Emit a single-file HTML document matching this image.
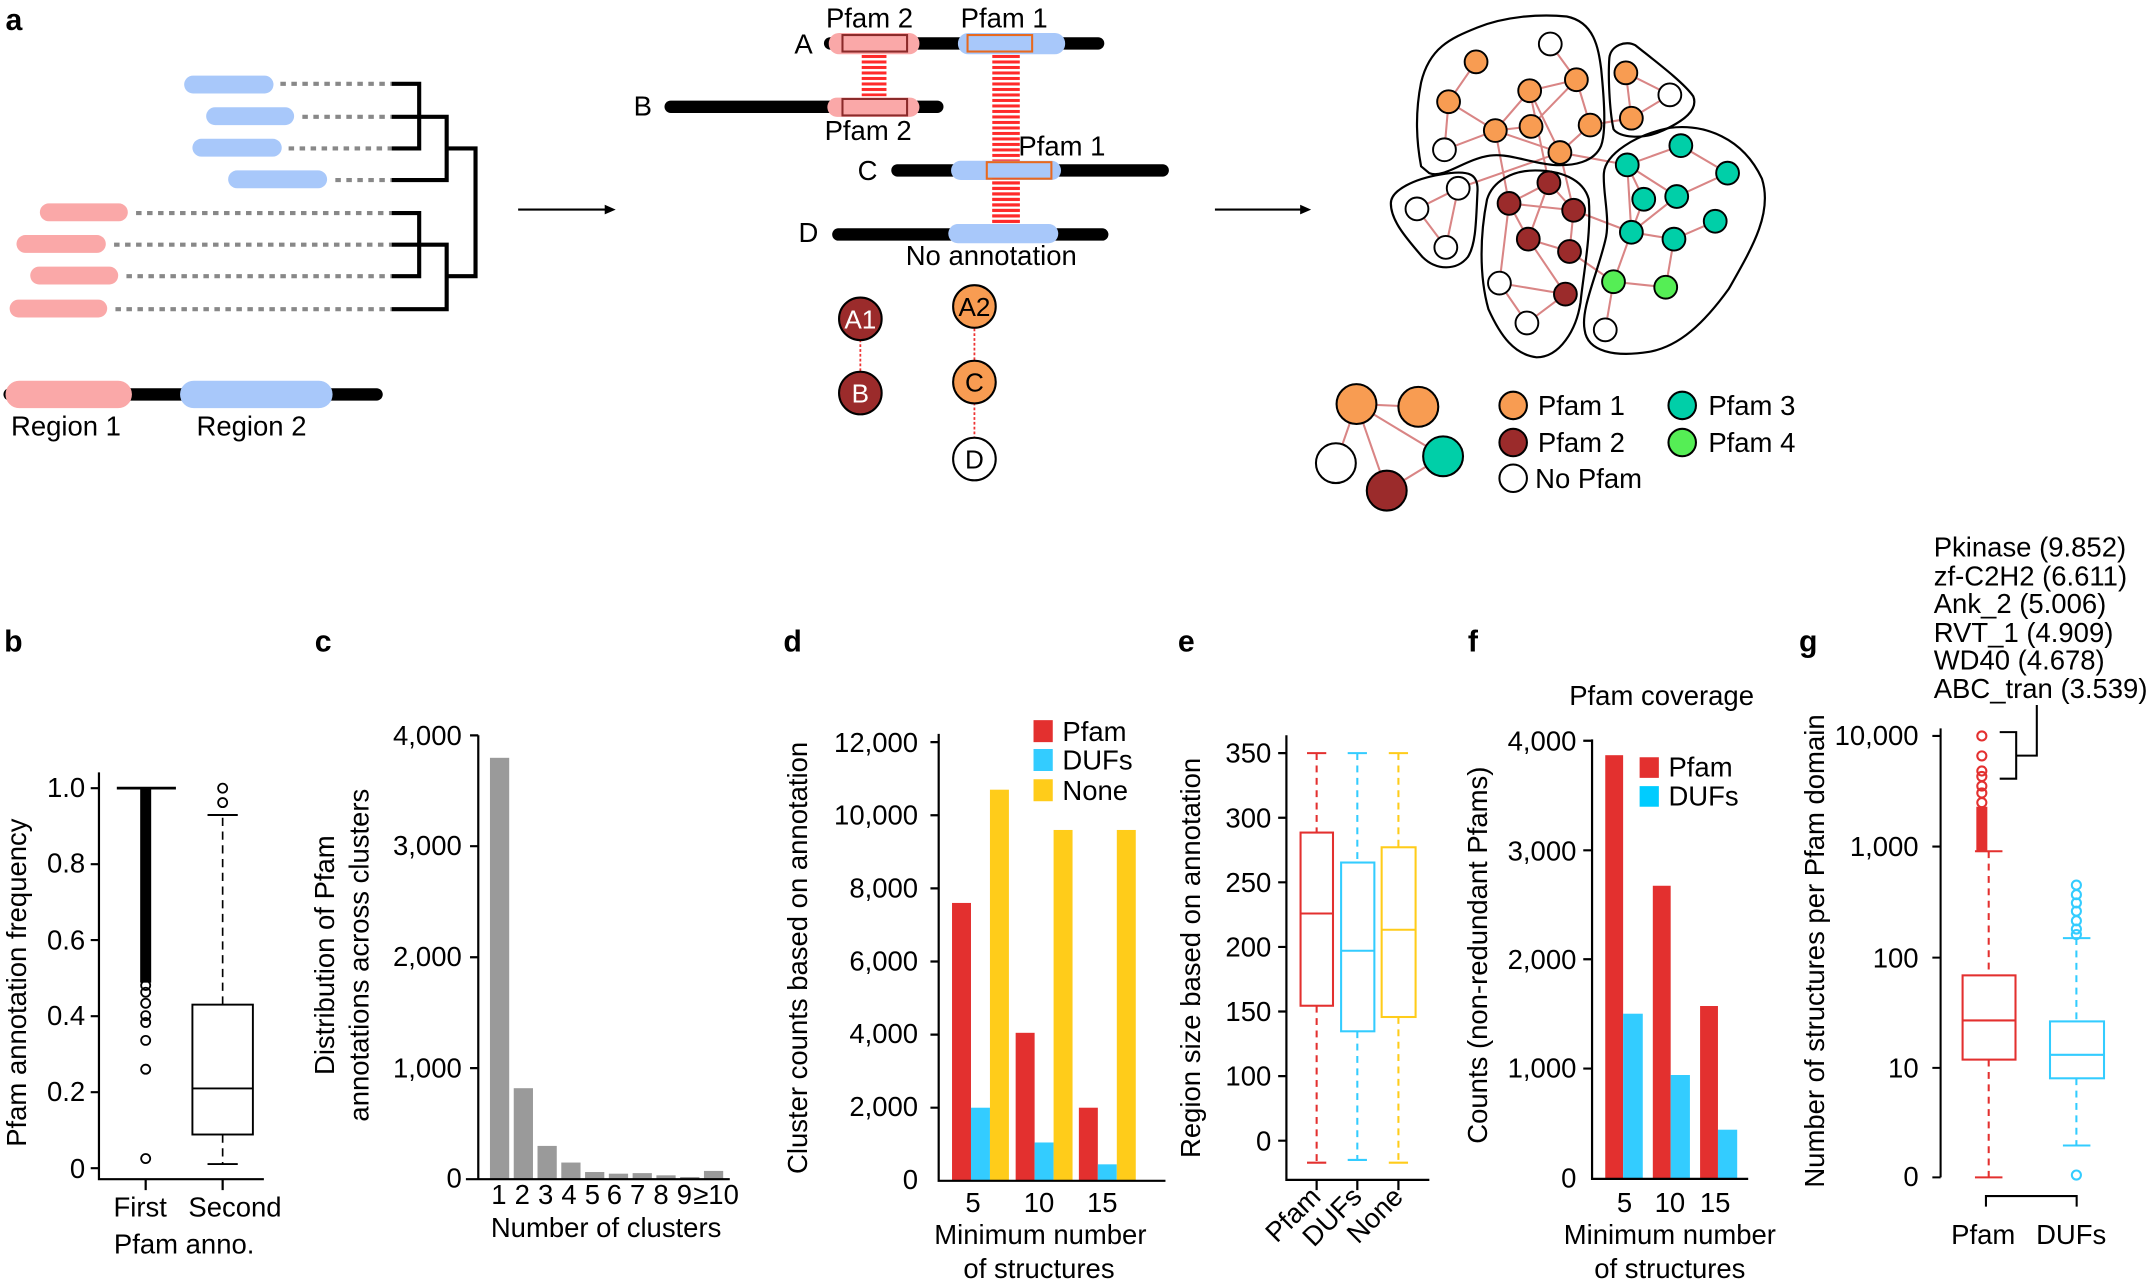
<!DOCTYPE html>
<html><head><meta charset="utf-8"><style>
html,body{margin:0;padding:0;background:#fff;}
svg{display:block;}
text{font-family:"Liberation Sans",Arial,sans-serif;fill:#000;}
</style></head><body>
<svg width="2155" height="1285" viewBox="0 0 1568 935" preserveAspectRatio="none" xmlns="http://www.w3.org/2000/svg">
<defs>
<pattern id="ladder" width="4" height="4" patternUnits="userSpaceOnUse"><rect width="40" height="2.2" fill="#ff2a2a"/></pattern>
</defs>
<!-- Panel a -->
<text x="4" y="22" font-size="22" font-weight="bold">a</text>
<g fill="#a8c8fa">
<rect x="134" y="55" width="65" height="13" rx="6.5"/>
<rect x="150" y="78" width="64" height="13" rx="6.5"/>
<rect x="140" y="101" width="65" height="13" rx="6.5"/>
<rect x="166" y="124" width="72" height="13" rx="6.5"/>
</g>
<g fill="#faa8a8">
<rect x="29" y="148" width="64" height="13" rx="6.5"/>
<rect x="12" y="171" width="65" height="13" rx="6.5"/>
<rect x="22" y="194" width="64" height="13" rx="6.5"/>
<rect x="7" y="218" width="71" height="13" rx="6.5"/>
</g>
<g stroke="#888" stroke-width="3" stroke-dasharray="4,4">
<line x1="204" y1="61" x2="285" y2="61"/><line x1="220" y1="85" x2="285" y2="85"/>
<line x1="210" y1="108" x2="285" y2="108"/><line x1="244" y1="131" x2="285" y2="131"/>
<line x1="99" y1="155" x2="285" y2="155"/><line x1="83" y1="178" x2="285" y2="178"/>
<line x1="92" y1="201" x2="285" y2="201"/><line x1="84" y1="225" x2="285" y2="225"/>
</g>
<g stroke="#000" stroke-width="3" fill="none">
<path d="M285 61H305V108H285M285 85H325V131H285M325 108H346V201H325M285 155H305V201H285M285 178H325V225H285"/>
</g>
<line x1="7" y1="287" x2="274" y2="287" stroke="#000" stroke-width="9" stroke-linecap="round"/>
<rect x="4" y="277" width="92" height="20" rx="10" fill="#faa8a8"/>
<rect x="131" y="277" width="111" height="20" rx="10" fill="#a8c8fa"/>
<text x="8" y="317" font-size="20">Region 1</text>
<text x="143" y="317" font-size="20">Region 2</text>
<g stroke="#000" stroke-width="1.5"><line x1="377" y1="152.5" x2="444" y2="152.5"/><line x1="884" y1="152.5" x2="950" y2="152.5"/></g>
<path d="M440 149L448 152.5L440 156Z M946 149L954 152.5L946 156Z" fill="#000"/>
<!-- schematic -->
<rect x="627" y="40" width="18" height="30" fill="url(#ladder)"/>
<rect x="722" y="39" width="20" height="124" fill="url(#ladder)"/>
<g stroke="#000" stroke-width="9" stroke-linecap="round">
<line x1="604" y1="31.6" x2="799" y2="31.6"/>
<line x1="488" y1="77.7" x2="682" y2="77.7"/>
<line x1="653" y1="124" x2="846" y2="124"/>
<line x1="610" y1="170.6" x2="802" y2="170.6"/>
</g>
<rect x="603" y="24" width="66" height="15.5" rx="7.5" fill="#faa8a8"/>
<rect x="613" y="25.5" width="47" height="12" fill="none" stroke="#8b2a2a" stroke-width="1.5"/>
<rect x="697" y="24" width="78" height="15.5" rx="7.5" fill="#a8c8fa"/>
<rect x="704" y="25.5" width="47" height="12" fill="none" stroke="#e8691e" stroke-width="1.5"/>
<rect x="602" y="71" width="67" height="14" rx="7" fill="#faa8a8"/>
<rect x="613" y="72" width="47" height="12" fill="none" stroke="#8b2a2a" stroke-width="1.5"/>
<rect x="692" y="117" width="80" height="14" rx="7" fill="#a8c8fa"/>
<rect x="718" y="118" width="47" height="12" fill="none" stroke="#e8691e" stroke-width="1.5"/>
<rect x="722" y="130" width="20" height="33" fill="url(#ladder)"/>
<rect x="690" y="163" width="80" height="14" rx="7" fill="#a8c8fa"/>
<g font-size="20">
<text x="578" y="39">A</text><text x="461" y="84">B</text><text x="624" y="131">C</text><text x="581" y="176">D</text>
<text x="601" y="20">Pfam 2</text><text x="699" y="20">Pfam 1</text>
<text x="600" y="102">Pfam 2</text><text x="741" y="113">Pfam 1</text>
<text x="659" y="193">No annotation</text>
</g>
<g stroke="#e33" stroke-width="1.3" stroke-dasharray="2,1.5"><line x1="626" y1="247" x2="626" y2="271"/><line x1="709" y1="239" x2="709" y2="263"/><line x1="709" y1="293" x2="709" y2="319"/></g>
<g stroke="#000" stroke-width="1.5">
<circle cx="626" cy="232" r="15.5" fill="#9b2b2b"/><circle cx="626" cy="286" r="15.5" fill="#9b2b2b"/>
<circle cx="709" cy="223" r="15.5" fill="#f89c52"/><circle cx="709" cy="278" r="15.5" fill="#f89c52"/>
<circle cx="709" cy="334" r="15.5" fill="#fff"/>
</g>
<g font-size="19" text-anchor="middle">
<text x="626" y="239" fill="#fff" style="fill:#fff">A1</text><text x="626" y="293" style="fill:#fff">B</text>
<text x="709" y="230">A2</text><text x="709" y="285">C</text><text x="709" y="341">D</text>
</g>
<!-- network -->
<g stroke="#d98585" stroke-width="1.5">
<path d="M1074 45L1054 74M1128 32L1147 58M1147 58L1113 66M1147 58L1157 91M1113 66L1088 95M1113 66L1135 111M1054 74L1088 95M1054 74L1051 109M1088 95L1114 92M1088 95L1051 109M1088 95L1135 111M1114 92L1147 58M1157 91L1135 111M1183 53L1215 69M1183 53L1187 86M1215 69L1187 86M1187 86L1157 91M1135 111L1184 120M1113 66L1127 133M1061 137L1031 152M1061 137L1052 180M1031 152L1052 180M1061 137L1135 111M1135 111L1145 153M1127 133L1098 148M1127 133L1145 153M1127 133L1112 174M1098 148L1145 153M1098 148L1112 174M1145 153L1142 183M1112 174L1142 183M1112 174L1139 214M1142 183L1174 205M1098 148L1091 206M1091 206L1139 214M1091 206L1111 235M1139 214L1111 235M1223 106L1184 120M1223 106L1257 126M1184 120L1196 145M1184 120L1220 143M1257 126L1220 143M1196 145L1187 169M1220 143L1187 169M1248 161L1218 174M1187 169L1218 174M1184 120L1187 169M1187 169L1174 205M1174 205L1212 209M1218 174L1212 209M1174 205L1168 240M1145 153L1187 169M1088 95L1098 148"/>
</g>
<g fill="none" stroke="#000" stroke-width="1.6">
<path d="M1034 121C1030 100 1030 80 1034 60C1040 35 1055 28 1075 20C1095 12 1120 10 1140 12C1160 16 1163 35 1165 50C1167 70 1169 95 1165 106C1160 118 1145 121 1130 120C1110 118 1095 110 1080 114C1065 117 1050 130 1040 126Z"/>
<path d="M1171 42C1172 33 1183 29 1190 33C1205 45 1225 60 1232 70C1236 80 1225 88 1210 95C1195 102 1178 100 1174 94C1171 80 1170 55 1171 42Z"/>
<path d="M1012 148C1012 138 1030 130 1048 127C1070 123 1076 127 1075 140C1074 160 1074 178 1068 187C1060 197 1045 197 1035 187C1022 172 1012 160 1012 148Z"/>
<path d="M1082 145C1086 132 1100 124 1117 124C1135 124 1152 130 1156 145C1158 170 1152 200 1150 220C1147 240 1135 260 1118 260C1102 258 1092 245 1083 225C1076 200 1077 170 1082 145Z"/>
<path d="M1167 126C1168 112 1190 98 1215 93C1240 90 1268 100 1282 130C1290 155 1275 180 1258 210C1240 235 1222 252 1200 256C1175 260 1155 256 1153 240C1150 225 1162 200 1168 175C1172 160 1166 140 1167 126Z"/>
</g>
<g stroke="#000" stroke-width="1.4">
<g fill="#f89c52"><circle cx="1074" cy="45" r="8.3"/><circle cx="1147" cy="58" r="8.3"/><circle cx="1113" cy="66" r="8.3"/><circle cx="1054" cy="74" r="8.3"/><circle cx="1088" cy="95" r="8.3"/><circle cx="1114" cy="92" r="8.3"/><circle cx="1157" cy="91" r="8.3"/><circle cx="1135" cy="111" r="8.3"/><circle cx="1183" cy="53" r="8.3"/><circle cx="1187" cy="86" r="8.3"/></g>
<g fill="#fff"><circle cx="1128" cy="32" r="8.3"/><circle cx="1051" cy="109" r="8.3"/><circle cx="1215" cy="69" r="8.3"/><circle cx="1061" cy="137" r="8.3"/><circle cx="1031" cy="152" r="8.3"/><circle cx="1052" cy="180" r="8.3"/><circle cx="1091" cy="206" r="8.3"/><circle cx="1111" cy="235" r="8.3"/><circle cx="1168" cy="240" r="8.3"/></g>
<g fill="#9b2b2b"><circle cx="1127" cy="133" r="8.3"/><circle cx="1098" cy="148" r="8.3"/><circle cx="1145" cy="153" r="8.3"/><circle cx="1112" cy="174" r="8.3"/><circle cx="1142" cy="183" r="8.3"/><circle cx="1139" cy="214" r="8.3"/></g>
<g fill="#00cfa8"><circle cx="1223" cy="106" r="8.3"/><circle cx="1184" cy="120" r="8.3"/><circle cx="1257" cy="126" r="8.3"/><circle cx="1196" cy="145" r="8.3"/><circle cx="1220" cy="143" r="8.3"/><circle cx="1248" cy="161" r="8.3"/><circle cx="1187" cy="169" r="8.3"/><circle cx="1218" cy="174" r="8.3"/></g>
<g fill="#55ee55"><circle cx="1174" cy="205" r="8.3"/><circle cx="1212" cy="209" r="8.3"/></g>
</g>
<!-- legend network -->
<g stroke="#d98585" stroke-width="1.5"><path d="M987 294L1032 296M987 294L972 337M987 294L1009 357M987 294L1050 332M1050 332L1009 357"/></g>
<g stroke="#000" stroke-width="1.5">
<circle cx="987" cy="294" r="14.5" fill="#f89c52"/><circle cx="1032" cy="296" r="14.5" fill="#f89c52"/>
<circle cx="972" cy="337" r="14.5" fill="#fff"/><circle cx="1009" cy="357" r="14.5" fill="#9b2b2b"/><circle cx="1050" cy="332" r="14.5" fill="#00cfa8"/>
<circle cx="1101" cy="295" r="10" fill="#f89c52"/><circle cx="1101" cy="322" r="10" fill="#9b2b2b"/><circle cx="1101" cy="348" r="10" fill="#fff"/>
<circle cx="1224" cy="295" r="10" fill="#00cfa8"/><circle cx="1224" cy="322" r="10" fill="#55ee55"/>
</g>
<g font-size="20"><text x="1119" y="302">Pfam 1</text><text x="1119" y="329">Pfam 2</text><text x="1117" y="355">No Pfam</text><text x="1243" y="302">Pfam 3</text><text x="1243" y="329">Pfam 4</text></g>

<!-- Panel b -->
<text x="3" y="474" font-size="22" font-weight="bold">b</text>
<g stroke="#000" stroke-width="1.6" fill="none">
<path d="M72 562V858H192M106 858V866M162 858V866"/>
<path d="M66 573.5H72M66 628.8H72M66 684H72M66 739.4H72M66 794.7H72M66 850H72"/>
<line x1="85" y1="573.5" x2="128" y2="573.5" stroke-width="2"/>
<rect x="140" y="731" width="44" height="94.5" stroke-width="1.4"/>
<line x1="140" y1="792" x2="184" y2="792" stroke-width="1.4"/>
<line x1="162" y1="731" x2="162" y2="593" stroke-dasharray="6,4" stroke-width="1.2"/>
<line x1="162" y1="825.5" x2="162" y2="847" stroke-dasharray="6,4" stroke-width="1.2"/>
<line x1="151" y1="593" x2="173" y2="593" stroke-width="1.4"/>
<line x1="151" y1="847" x2="173" y2="847" stroke-width="1.4"/>
<circle cx="162" cy="573.5" r="3.3" stroke-width="1.3"/><circle cx="162" cy="584" r="3.3" stroke-width="1.3"/>
</g>
<rect x="102" y="573" width="8" height="142" fill="#000"/>
<g fill="none" stroke="#000" stroke-width="1.3">
<circle cx="106" cy="717" r="3.3"/><circle cx="106" cy="722" r="3.3"/><circle cx="106" cy="730" r="3.3"/><circle cx="106" cy="739" r="3.3"/><circle cx="106" cy="744" r="3.3"/><circle cx="106" cy="757" r="3.3"/><circle cx="106" cy="778" r="3.3"/><circle cx="106" cy="843" r="3.3"/>
</g>
<g font-size="20" text-anchor="end"><text x="62" y="580">1.0</text><text x="62" y="635">0.8</text><text x="62" y="691">0.6</text><text x="62" y="746">0.4</text><text x="62" y="801">0.2</text><text x="62" y="857">0</text></g>
<g font-size="20" text-anchor="middle"><text x="102" y="885">First</text><text x="171" y="885">Second</text><text x="134" y="912">Pfam anno.</text></g>
<text transform="translate(19,715) rotate(-90)" font-size="20" text-anchor="middle">Pfam annotation frequency</text>

<!-- Panel c -->
<text x="229" y="474" font-size="22" font-weight="bold">c</text>
<g fill="#9a9a9a">
<rect x="356.5" y="551.4" width="14" height="306.6"/>
<rect x="373.8" y="791.8" width="14" height="66.2"/>
<rect x="391.1" y="833.8" width="14" height="24.2"/>
<rect x="408.4" y="845.9" width="14" height="12.1"/>
<rect x="425.7" y="852.8" width="14" height="5.2"/>
<rect x="443" y="854" width="14" height="4"/>
<rect x="460.3" y="853.6" width="14" height="4.4"/>
<rect x="477.6" y="855.2" width="14" height="2.8"/>
<rect x="494.9" y="856.4" width="14" height="1.6"/>
<rect x="512.2" y="852" width="14" height="6"/>
</g>
<g stroke="#000" stroke-width="1.6" fill="none"><path d="M348 535V858M339 858H531M342 535.1H348M342 615.7H348M342 696.5H348M342 777.2H348"/></g>
<g font-size="20" text-anchor="end"><text x="336" y="542">4,000</text><text x="336" y="622">3,000</text><text x="336" y="703">2,000</text><text x="336" y="784">1,000</text><text x="336" y="864">0</text></g>
<g font-size="20" text-anchor="middle"><text x="363" y="876">1</text><text x="380" y="876">2</text><text x="397" y="876">3</text><text x="414" y="876">4</text><text x="431" y="876">5</text><text x="447" y="876">6</text><text x="464" y="876">7</text><text x="481" y="876">8</text><text x="498" y="876">9</text><text x="521" y="876">≥10</text>
<text x="441" y="900">Number of clusters</text></g>
<g font-size="20" text-anchor="middle"><text transform="translate(243,695) rotate(-90)">Distribution of Pfam</text><text transform="translate(268,695) rotate(-90)">annotations across clusters</text></g>

<!-- Panel d -->
<text x="570" y="474" font-size="22" font-weight="bold">d</text>
<g fill="#e3302f"><rect x="692.7" y="657" width="13.8" height="202.2"/><rect x="739" y="751.5" width="13.8" height="107.7"/><rect x="785" y="806" width="13.8" height="53.2"/></g>
<g fill="#33ccff"><rect x="706.5" y="806" width="13.8" height="53.2"/><rect x="752.8" y="831.3" width="13.8" height="27.9"/><rect x="798.8" y="847.2" width="13.8" height="12"/></g>
<g fill="#ffcc1a"><rect x="720.3" y="574.6" width="13.8" height="284.6"/><rect x="766.6" y="603.9" width="13.8" height="255.3"/><rect x="812.6" y="603.9" width="13.8" height="255.3"/></g>
<g stroke="#000" stroke-width="1.6" fill="none"><path d="M683 534V859.2H848M677 540H683M677 593.2H683M677 646.4H683M677 699.6H683M677 752.8H683M677 806H683"/></g>
<g font-size="20" text-anchor="end"><text x="668" y="547">12,000</text><text x="668" y="600">10,000</text><text x="668" y="653">8,000</text><text x="668" y="706">6,000</text><text x="668" y="759">4,000</text><text x="668" y="812">2,000</text><text x="668" y="865">0</text></g>
<g font-size="20" text-anchor="middle"><text x="708" y="882">5</text><text x="756" y="882">10</text><text x="802" y="882">15</text><text x="757" y="905">Minimum number</text><text x="756" y="930">of structures</text></g>
<rect x="752" y="524" width="14" height="16" fill="#e3302f"/><rect x="752" y="545" width="14" height="16" fill="#33ccff"/><rect x="752" y="567" width="14" height="16" fill="#ffcc1a"/>
<g font-size="20"><text x="773" y="539">Pfam</text><text x="773" y="560">DUFs</text><text x="773" y="582">None</text></g>
<text transform="translate(587,697) rotate(-90)" font-size="20" text-anchor="middle">Cluster counts based on annotation</text>

<!-- Panel e -->
<text x="857" y="474" font-size="22" font-weight="bold">e</text>
<g stroke="#000" stroke-width="1.6" fill="none"><path d="M936 535V858.5H1040M958 858.5V866M987.6 858.5V866M1017.5 858.5V866M930 548H936M930 595H936M930 642H936M930 689H936M930 736H936M930 783H936M930 830H936"/></g>
<g font-size="20" text-anchor="end"><text x="925" y="555">350</text><text x="925" y="602">300</text><text x="925" y="649">250</text><text x="925" y="696">200</text><text x="925" y="743">150</text><text x="925" y="790">100</text><text x="925" y="837">0</text></g>
<g fill="none" stroke-width="1.5">
<g stroke="#e3302f"><rect x="946.3" y="605.8" width="23.6" height="126"/><line x1="946.3" y1="664.7" x2="969.9" y2="664.7"/><line x1="958" y1="548" x2="958" y2="605.8" stroke-dasharray="5,4"/><line x1="958" y1="731.8" x2="958" y2="846" stroke-dasharray="5,4"/><line x1="951" y1="548" x2="965" y2="548"/><line x1="951" y1="846" x2="965" y2="846"/></g>
<g stroke="#33ccff"><rect x="975.8" y="627.6" width="24.2" height="122.8"/><line x1="975.8" y1="691.8" x2="1000" y2="691.8"/><line x1="987.6" y1="548" x2="987.6" y2="627.6" stroke-dasharray="5,4"/><line x1="987.6" y1="750.4" x2="987.6" y2="844" stroke-dasharray="5,4"/><line x1="980.6" y1="548" x2="994.6" y2="548"/><line x1="980.6" y1="844" x2="994.6" y2="844"/></g>
<g stroke="#ffcc1a"><rect x="1005.3" y="616.5" width="24.7" height="123.5"/><line x1="1005.3" y1="676.5" x2="1030" y2="676.5"/><line x1="1017.5" y1="548" x2="1017.5" y2="616.5" stroke-dasharray="5,4"/><line x1="1017.5" y1="740" x2="1017.5" y2="846" stroke-dasharray="5,4"/><line x1="1010.5" y1="548" x2="1024.5" y2="548"/><line x1="1010.5" y1="846" x2="1024.5" y2="846"/></g>
</g>
<g font-size="20" text-anchor="end"><text transform="translate(962,872) rotate(-45)">Pfam</text><text transform="translate(992,872) rotate(-45)">DUFs</text><text transform="translate(1022,872) rotate(-45)">None</text></g>
<text transform="translate(873,697) rotate(-90)" font-size="20" text-anchor="middle">Region size based on annotation</text>

<!-- Panel f -->
<text x="1068" y="474" font-size="22" font-weight="bold">f</text>
<text x="1209" y="513" font-size="20" text-anchor="middle">Pfam coverage</text>
<g fill="#e3302f"><rect x="1168" y="549.5" width="13" height="308.3"/><rect x="1202.6" y="644.5" width="13" height="213.3"/><rect x="1237" y="732" width="13" height="125.8"/></g>
<g fill="#33ccff"><rect x="1181" y="737.6" width="14.3" height="120.2"/><rect x="1215.6" y="782.2" width="14" height="75.6"/><rect x="1250" y="822" width="14" height="35.8"/></g>
<g stroke="#000" stroke-width="1.6" fill="none"><path d="M1158.4 538V857.8H1272M1152 539H1158.4M1152 618.7H1158.4M1152 698H1158.4M1152 777.5H1158.4"/></g>
<g font-size="20" text-anchor="end"><text x="1147" y="546">4,000</text><text x="1147" y="626">3,000</text><text x="1147" y="705">2,000</text><text x="1147" y="784">1,000</text><text x="1147" y="864">0</text></g>
<g font-size="20" text-anchor="middle"><text x="1182" y="882">5</text><text x="1215" y="882">10</text><text x="1248" y="882">15</text><text x="1215" y="905">Minimum number</text><text x="1215" y="930">of structures</text></g>
<rect x="1193" y="551" width="14" height="15" fill="#e3302f"/><rect x="1193" y="572" width="14" height="15" fill="#00ccff"/>
<g font-size="20"><text x="1214" y="565">Pfam</text><text x="1214" y="586">DUFs</text></g>
<text transform="translate(1082,695) rotate(-90)" font-size="20" text-anchor="middle">Counts (non-redundant Pfams)</text>

<!-- Panel g -->
<text x="1309" y="474" font-size="22" font-weight="bold">g</text>
<g font-size="20"><text x="1407" y="405">Pkinase (9.852)</text><text x="1407" y="426">zf-C2H2 (6.611)</text><text x="1407" y="446">Ank_2 (5.006)</text><text x="1407" y="467">RVT_1 (4.909)</text><text x="1407" y="487">WD40 (4.678)</text><text x="1407" y="508">ABC_tran (3.539)</text></g>
<g stroke="#000" stroke-width="1.5" fill="none"><path d="M1455 532.7H1467V566.6H1455M1467 549.8H1482V513"/>
<path d="M1412 530V856.7M1406 535.5H1412M1406 616H1412M1406 696.8H1412M1406 777H1412M1406 856.7H1412"/>
<path d="M1445 878V870.3H1511V878"/></g>
<g font-size="20" text-anchor="end"><text x="1396" y="542">10,000</text><text x="1396" y="623">1,000</text><text x="1396" y="704">100</text><text x="1396" y="784">10</text><text x="1396" y="863">0</text></g>
<g font-size="20" text-anchor="middle"><text x="1443" y="905">Pfam</text><text x="1507" y="905">DUFs</text></g>
<g fill="none" stroke-width="1.5">
<g stroke="#e3302f"><rect x="1428" y="709.7" width="38.5" height="61.3"/><line x1="1428" y1="742.5" x2="1466.5" y2="742.5"/><line x1="1447" y1="619.4" x2="1447" y2="709.7" stroke-dasharray="5,4"/><line x1="1447" y1="771" x2="1447" y2="856.7" stroke-dasharray="5,4"/><line x1="1437" y1="619.4" x2="1457" y2="619.4"/><line x1="1437" y1="856.7" x2="1457" y2="856.7"/>
<circle cx="1442" cy="535.5" r="3.3"/><circle cx="1442" cy="550" r="3.3"/><circle cx="1442" cy="561" r="3.3"/><circle cx="1442" cy="565" r="3.3"/><circle cx="1442" cy="572" r="3.3"/><circle cx="1442" cy="577" r="3.3"/><circle cx="1442" cy="584" r="3.3"/>
</g>
<g stroke="#33ccff"><rect x="1491.6" y="743.2" width="39.3" height="41.4"/><line x1="1491.6" y1="767.5" x2="1530.9" y2="767.5"/><line x1="1510.8" y1="682.6" x2="1510.8" y2="743.2" stroke-dasharray="5,4"/><line x1="1510.8" y1="784.6" x2="1510.8" y2="833.5" stroke-dasharray="5,4"/><line x1="1501" y1="682.6" x2="1521" y2="682.6"/><line x1="1501" y1="833.5" x2="1521" y2="833.5"/>
<circle cx="1510.8" cy="644" r="3.3"/><circle cx="1510.8" cy="651" r="3.3"/><circle cx="1510.8" cy="657" r="3.3"/><circle cx="1510.8" cy="663" r="3.3"/><circle cx="1510.8" cy="670" r="3.3"/><circle cx="1510.8" cy="676" r="3.3"/><circle cx="1510.8" cy="680" r="3.3"/><circle cx="1510.8" cy="855" r="3.3"/>
</g>
</g>
<rect x="1438" y="587" width="8" height="33" fill="#e3302f"/>
<text transform="translate(1327,692) rotate(-90)" font-size="20" text-anchor="middle">Number of structures per Pfam domain</text>
</svg>
</body></html>
